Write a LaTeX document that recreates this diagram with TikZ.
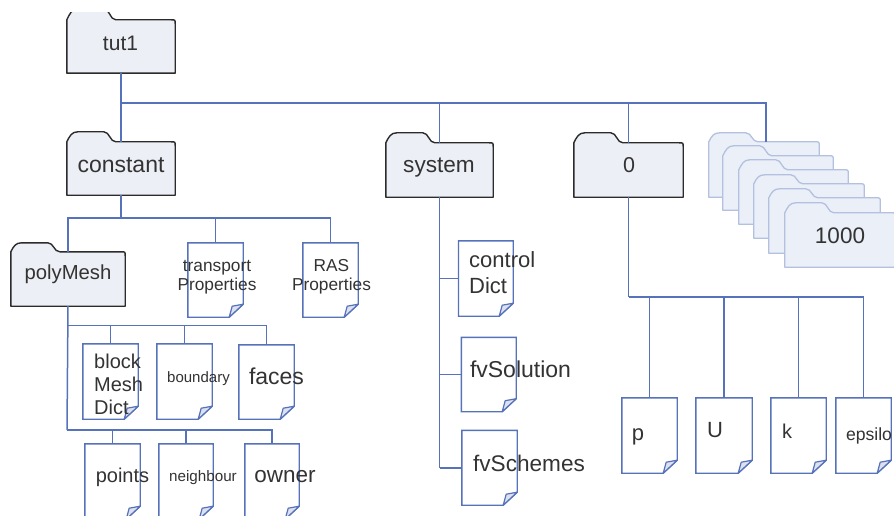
\documentclass[tikz,border=0pt]{standalone}
\usepackage{fontspec}
\setmainfont{Liberation Sans}
\definecolor{wireblue}{HTML}{5572BA}
\definecolor{folderfill}{HTML}{ECEFF5}
\definecolor{folderline}{HTML}{2B2B2B}
\definecolor{stackfill}{HTML}{EAEFF8}
\definecolor{stackline}{HTML}{B4C0DF}
\definecolor{foldfill}{HTML}{DDE1EF}
\definecolor{labelgrey}{HTML}{333333}
\tikzset{
  wire/.style={draw=wireblue,line width=1.5pt},
  folderbox/.style={draw=folderline,fill=folderfill,line width=1.4pt,line join=round},
  stackbox/.style={draw=stackline,fill=stackfill,line width=1.3pt,line join=round},
  docbox/.style={draw=wireblue,fill=white,line width=1.4pt,line join=miter},
  foldbox/.style={draw=wireblue,fill=foldfill,line width=1.2pt,line join=round},
  lab/.style={inner sep=0pt,text=labelgrey,align=center},
  labL/.style={inner sep=0pt,text=labelgrey,align=left},
}
% name, left, right, shoulder, tabtop, bottom, style
\newcommand\folderat[7]{%
  \pgfmathsetmacro\fw{#3-#2}\pgfmathsetmacro\fh{#6-#4}%
  \pgfmathsetmacro\fcx{(#2+#3)/2}\pgfmathsetmacro\fcy{(#4+#6)/2}%
  \pgfmathsetmacro\ft{#4-#5}%
  \node[minimum width=\fw pt,minimum height=\fh pt,inner sep=0pt] (#1) at (\fcx,\fcy) {};
  \path[#7] (#1.south west) -- (#1.north west)
    .. controls ([xshift=3pt,yshift=6pt]#1.north west) and ([xshift=5pt,yshift=\ft pt]#1.north west) .. ([xshift=11pt,yshift=\ft pt]#1.north west)
    -- ([xshift=37pt,yshift=\ft pt]#1.north west)
    .. controls ([xshift=43pt,yshift=\ft pt]#1.north west) and ([xshift=43pt]#1.north west) .. ([xshift=49pt]#1.north west)
    -- ([xshift=-4pt]#1.north east)
    .. controls (#1.north east) .. ([yshift=-4pt]#1.north east)
    -- (#1.south east) -- cycle;
}
% name, left, top, right, bottom
\newcommand\docat[5]{%
  \pgfmathsetmacro\fw{#4-#2}\pgfmathsetmacro\fh{#5-#3}%
  \pgfmathsetmacro\fcx{(#2+#4)/2}\pgfmathsetmacro\fcy{(#3+#5)/2}%
  \node[minimum width=\fw pt,minimum height=\fh pt,inner sep=0pt] (#1) at (\fcx,\fcy) {};
  \path[docbox] (#1.south west) -- (#1.north west) -- (#1.north east)
    -- ([yshift=13pt]#1.south east) -- ([xshift=-14pt]#1.south east) -- cycle;
  \path[foldbox] ([yshift=13pt]#1.south east) -- ([xshift=-14pt]#1.south east)
    -- ([xshift=-11pt,yshift=11pt]#1.south east) -- cycle;
}
\begin{document}
\begin{tikzpicture}[x=1pt,y=-1pt]
\useasboundingbox (0,0) rectangle (894,516);
\clip (0,0) rectangle (894,516);
\fill[white] (0,0) rectangle (894,516);

% folders
\begin{scope}
  \clip (0,13) rectangle (894,516);
  \folderat{tut1}{67}{175}{20}{9}{73}{folderbox}
\end{scope}
\folderat{constant}{67}{175}{142}{132}{195}{folderbox}
\folderat{polyMesh}{11}{125}{252}{243}{306}{folderbox}
\folderat{system}{386}{493}{143}{133}{197}{folderbox}
\folderat{zero}{574}{683}{143}{133}{197}{folderbox}
\folderat{s1}{709}{819}{142}{133}{197}{stackbox}
\folderat{s2}{723}{833}{156}{146}{210}{stackbox}
\folderat{s3}{739}{848}{170}{160}{224}{stackbox}
\folderat{s4}{754}{864}{184}{175}{238}{stackbox}
\folderat{s5}{769}{880}{198}{189}{253}{stackbox}
\folderat{s6}{785}{895}{213}{203}{267}{stackbox}

% documents
\docat{transport}{188}{243}{243}{317}
\docat{ras}{303}{243}{358}{317}
\docat{block}{83}{344}{138}{419}
\docat{boundary}{157}{344}{212}{419}
\docat{faces}{239}{345}{294}{419}
\docat{points}{85}{444}{140}{519}
\docat{neighbour}{159}{444}{213}{519}
\docat{owner}{245}{444}{299}{519}
\docat{control}{458.7}{241}{513}{316}
\docat{fvsol}{461.5}{337.5}{516}{411.5}
\docat{fvsch}{462}{430.5}{517}{505}
\docat{p}{622}{398}{677}{473}
\docat{U}{696}{398}{752}{473}
\docat{k}{771}{398}{826}{473}
\docat{eps}{836}{398}{891}{473}

% junctions
\coordinate (top) at (121,103);
\coordinate (cj) at (121,218);
\coordinate (pa) at (67,325.5);
\coordinate (pb) at (67,430);
\coordinate (zj) at (628.5,297);
\coordinate (sj) at (system.south |- fvsch.west);

% connectors
\draw[wire] (tut1.south) -- (constant.north);
\draw[wire] (top) -| (system.north);
\draw[wire] (top) -| (zero.north);
\draw[wire] (top) -| ([xshift=2pt]s1.north);
\draw[wire] (constant.south) -- (cj);
\draw[wire] (cj) -| (polyMesh.north);
\draw[wire] (cj) -| (transport.north);
\draw[wire] (cj) -| (ras.north);
\draw[wire] (polyMesh.south) -- (pb);
\draw[wire] (pa) -| (block.north);
\draw[wire] (pa) -| (boundary.north);
\draw[wire] (pa) -| (faces.north);
\draw[wire] (pb) -| (points.north);
\draw[wire] (pb) -| (neighbour.north);
\draw[wire] (pb) -| (owner.north);
\draw[wire] (system.south) -- (sj);
\draw[wire] (system.south |- control.west) -- (control.west);
\draw[wire] (system.south |- fvsol.west) -- (fvsol.west);
\draw[wire] (sj) -- (fvsch.west);
\draw[wire] (zero.south) -- (zj);
\draw[wire] (zj) -| (p.north);
\draw[wire] (zj) -| (U.north);
\draw[wire] (zj) -| (k.north);
\draw[wire] (zj) -| (eps.north);

% labels
\node[lab,font=\fontsize{21}{21}\selectfont] (ltut) at (120.5,43) {tut1};
\node[lab,font=\fontsize{23}{23}\selectfont] (lconst) at (121,165) {constant};
\node[lab,font=\fontsize{20.3}{20}\selectfont] (lpoly) at (68,274.5) {polyMesh};
\node[lab,font=\fontsize{22.6}{23}\selectfont] (lsys) at (439,168) {system};
\node[lab,font=\fontsize{21.5}{22}\selectfont] (lzero) at (629,165) {0};
\node[lab,font=\fontsize{22.5}{23}\selectfont] (lthou) at (840,236) {1000};
\node[lab,font=\fontsize{17.3}{19.5}\selectfont] (ltrans) at (217,277) {transport\\Properties};
\node[lab,font=\fontsize{17.3}{19.5}\selectfont] (lras) at (331.5,277) {RAS\\Properties};
\node[labL,font=\fontsize{20}{23}\selectfont] (lblock) at (94,384) [anchor=west] {block\\Mesh\\Dict};
\node[lab,font=\fontsize{15}{15}\selectfont] (lbound) at (198.5,379) {boundary};
\node[lab,font=\fontsize{23}{23}\selectfont] (lfaces) at (276.5,376.5) {faces};
\node[lab,font=\fontsize{20}{20}\selectfont] (lpoints) at (122.5,477.5) {points};
\node[lab,font=\fontsize{15.2}{15}\selectfont] (lneigh) at (203,478) {neighbour};
\node[lab,font=\fontsize{22.5}{23}\selectfont] (lowner) at (285,477) {owner};
\node[labL,font=\fontsize{22}{26}\selectfont] (lcontrol) at (469,273) [anchor=west] {control\\Dict};
\node[lab,font=\fontsize{23}{23}\selectfont] (lfvsol) at (520.5,369) {fvSolution};
\node[lab,font=\fontsize{22.6}{23}\selectfont] (lfvsch) at (529,463) {fvSchemes};
\node[lab,font=\fontsize{22}{22}\selectfont] (lp) at (638,437) {p};
\node[lab,font=\fontsize{22}{22}\selectfont] (lU) at (715,430) {U};
\node[lab,font=\fontsize{20}{20}\selectfont] (lk) at (787,431) {k};
\node[lab,font=\fontsize{17.6}{18}\selectfont] (leps) at (869,436) {epsilo};
\end{tikzpicture}
\end{document}
